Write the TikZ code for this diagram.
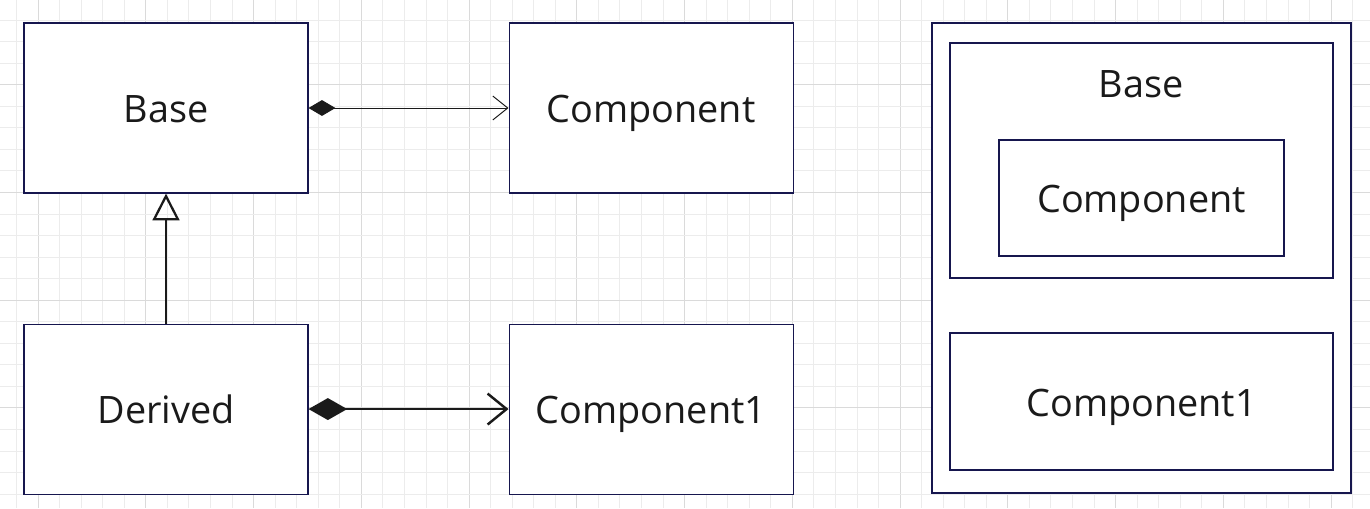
\documentclass[tikz,border=0pt]{standalone}
\usepackage{fontspec}
\setmainfont{Open Sans}
\usetikzlibrary{positioning, arrows.meta}
\definecolor{boxline}{RGB}{22,22,78}
\definecolor{ink}{RGB}{26,26,26}
\definecolor{gridminor}{RGB}{236,236,236}
\definecolor{gridmajor}{RGB}{218,218,218}

\begin{document}
\begin{tikzpicture}[cls/.style={draw=boxline, line width=0.6pt, fill=white, text=ink, minimum width=5.68cm, minimum height=3.4cm, text height=17pt, text depth=0pt, font=\fontsize{21.5}{26}\selectfont},
  lbl/.style={text=ink, font=\fontsize{21.5}{26}\selectfont},
  assoc/.style={draw=ink, line width=0.55pt, {Diamond[length=15.3pt, width=9pt]}-{Straight Barb[length=8.5pt, width=13.6pt]}},
  owns/.style={draw=ink, line width=1.4pt, {Diamond[length=22pt, width=12.5pt]}-{Straight Barb[length=10.8pt, width=17.6pt]}},
  inherit/.style={draw=ink, line width=1.3pt, -{Triangle[open, length=15.3pt, width=15.3pt]}}]
\useasboundingbox (0,0) rectangle (27.4,-10.16);
\foreach \i in {0,...,62}
  \pgfmathparse{mod(\i,5)==1 ? "gridmajor" : "gridminor"}
  \draw[\pgfmathresult, line width=0.5pt] (0.33+0.431*\i,0) -- (0.33+0.431*\i,-10.16);
\foreach \j in {0,...,22}
  \pgfmathparse{mod(\j,5)==3 ? "gridmajor" : "gridminor"}
  \draw[\pgfmathresult, line width=0.5pt] (0,-0.4-0.431*\j) -- (27.4,-0.4-0.431*\j);

\node[cls] (base) at (3.32,-2.16) {Base};
\node[cls, right = 4cm of base] (comp) {Component};
\node[cls, below = 2.6cm of base] (derived) {Derived};
\node[cls, right = 4cm of derived] (comp1) {Component1};
\draw[assoc] (base) -- (comp);
\draw[owns] (derived) -- (comp1);
\draw[inherit] (derived) -- (base);

\node[cls, minimum width=8.38cm, minimum height=9.4cm] (pane) at (22.83,-5.16) {};
\node[cls, minimum width=7.66cm, minimum height=4.7cm] (base2) at (22.83,-3.21) {};
\node[lbl] (base2lbl) at (22.82,-1.68) {Base};
\node[cls, minimum width=5.7cm, minimum height=2.32cm] (comp2) at (22.83,-3.96) {Component};
\node[cls, minimum width=7.66cm, minimum height=2.74cm] (comp12) at (22.83,-8.03) {Component1};
\end{tikzpicture}
\end{document}
